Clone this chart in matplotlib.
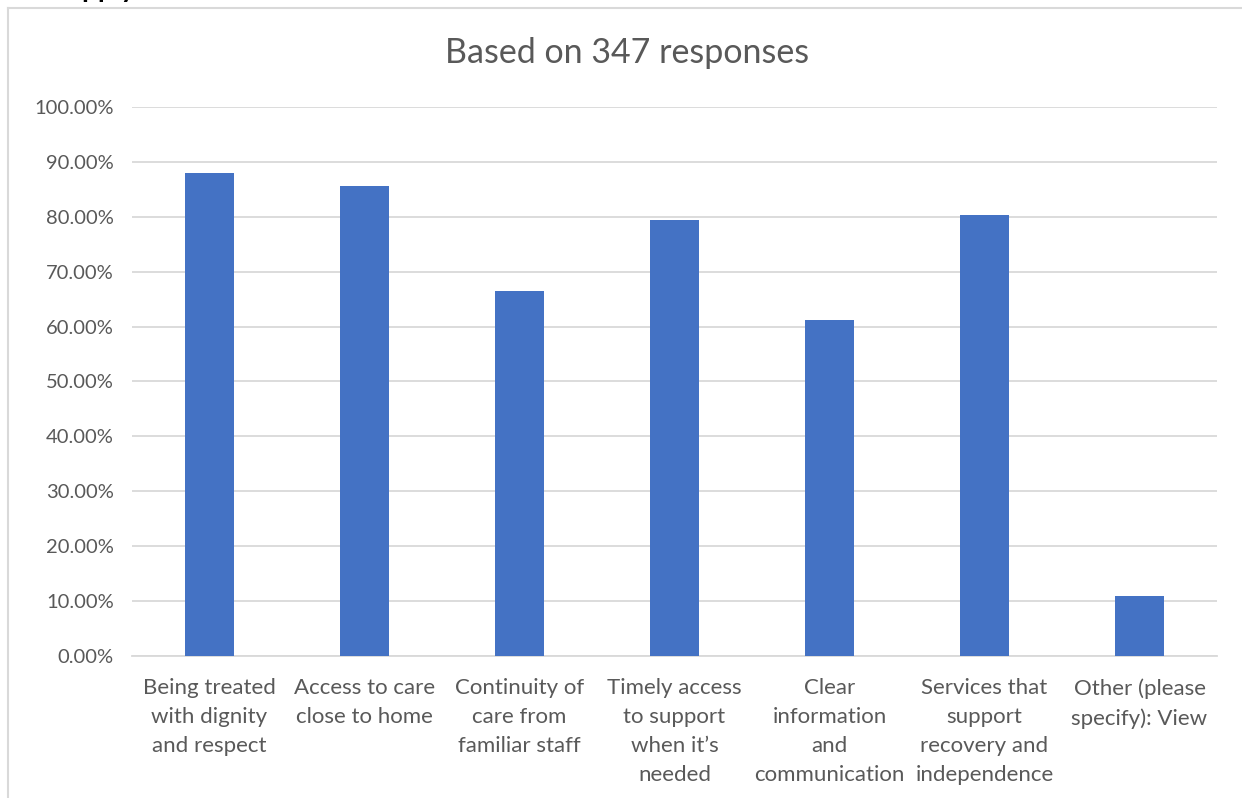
import matplotlib
matplotlib.use("Agg")
import matplotlib.pyplot as plt
from matplotlib.lines import Line2D
from matplotlib.ticker import PercentFormatter

categories = [
    "Being treated\nwith dignity\nand respect",
    "Access to care\nclose to home",
    "Continuity of\ncare from\nfamiliar staff",
    "Timely access\nto support\nwhen it\u2019s\nneeded",
    "Clear\ninformation\nand\ncommunication",
    "Services that\nsupport\nrecovery and\nindependence",
    "Other (please\nspecify): View",
]
shares = [87.9, 85.6, 66.4, 79.4, 61.2, 80.3, 10.9]
y_ticks = [0, 10, 20, 30, 40, 50, 60, 70, 80, 90, 100]
title = "Based on 347 responses"

plt.rcParams["font.family"] = ["Lato", "DejaVu Sans"]
text_grey = "#595959"
grid_grey = "#d9d9d9"
bar_blue = "#4472c4"

W, H = 1242, 798
fig = plt.figure(figsize=(W / 100, H / 100), dpi=100)

# chart frame (extends beyond the right and bottom edges)
fig.add_artist(Line2D([8 / W, 1.0], [1 - 8 / H, 1 - 8 / H], color=grid_grey, lw=1.5))
fig.add_artist(Line2D([8 / W, 8 / W], [0, 1 - 8 / H], color=grid_grey, lw=1.5))

# heading text above the frame, mostly cut off
fig.text(68 / W, 1 + 3 / H, "apply", fontsize=20, fontweight="bold",
         color="black", va="baseline", ha="left")

ax = fig.add_axes([132 / W, 1 - 656 / H, (1217 - 132) / W, (656 - 107) / H])
x = list(range(len(categories)))
ax.bar(x, shares, width=0.31, color=bar_blue, zorder=3)

ax.set_xlim(-0.5, len(categories) - 0.5)
ax.set_ylim(0, 100)
ax.set_yticks(y_ticks)
ax.yaxis.set_major_formatter(PercentFormatter(decimals=2))
ax.set_xticks(x)
ax.set_xticklabels(categories, fontsize=16, color=text_grey, linespacing=1.55, va="top")
ax.tick_params(axis="y", labelsize=14.5, labelcolor=text_grey, length=0, pad=13)
ax.tick_params(axis="x", length=0, pad=16)
ax.grid(axis="y", color=grid_grey, lw=1.3, zorder=0)
for s in ["top", "right", "left"]:
    ax.spines[s].set_visible(False)
ax.spines["bottom"].set_color(grid_grey)
ax.spines["bottom"].set_linewidth(1.3)

fig.text(627 / W, 1 - 53 / H, title, fontsize=24.5, color=text_grey,
         ha="center", va="center")

fig.savefig("out.png", dpi=100)
